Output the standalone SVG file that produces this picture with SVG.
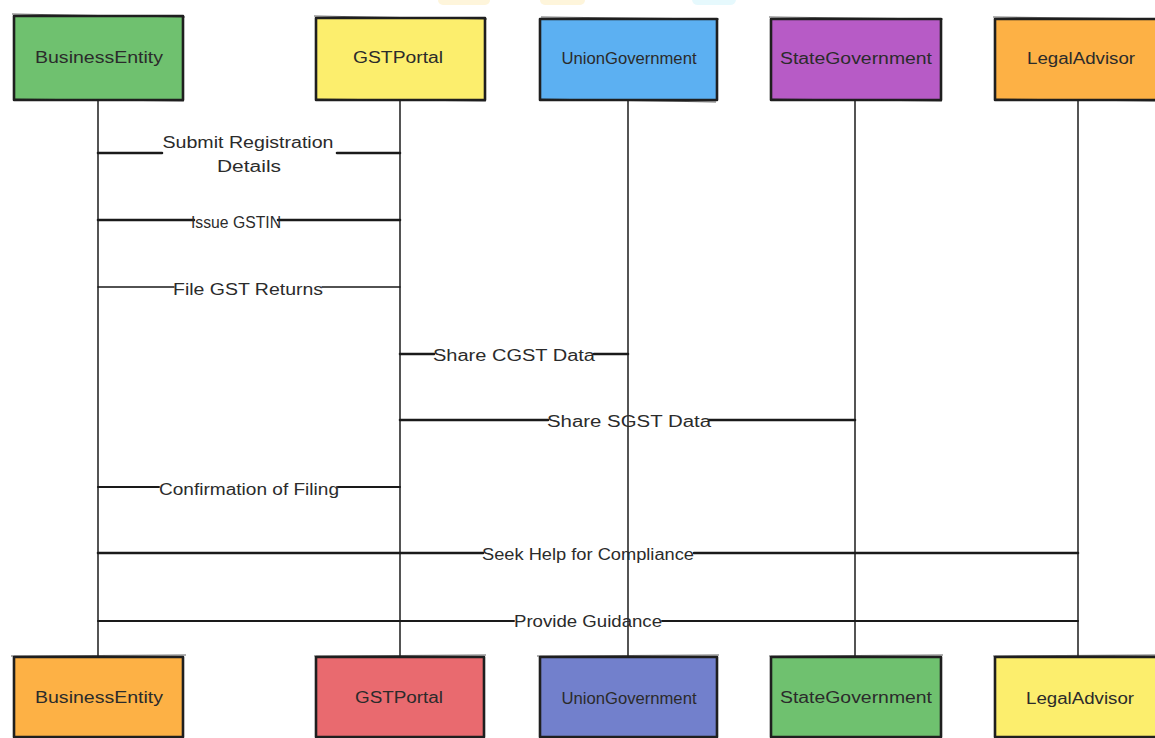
<svg xmlns="http://www.w3.org/2000/svg" width="1155" height="738" viewBox="0 0 1155 738">
  <style>
    .box { stroke: #1f1f1f; stroke-width: 2.6; stroke-linejoin: round; }
    .sk { fill: none; stroke: #1f1f1f; stroke-width: 1.2; opacity: 0.7; }
    .life { stroke: #2a2a2a; stroke-width: 1.6; fill: none; }
    .msg { stroke: #1a1a1a; fill: none; stroke-linecap: round; }
    .thick { stroke-width: 2.6; }
    .mid { stroke-width: 2; }
    .thin { stroke-width: 1.5; }
    .lbl { font-family: "Liberation Sans", "DejaVu Sans", sans-serif; font-size: 16px; fill: #2b2b2b; text-anchor: middle; dominant-baseline: central; }
    .mlbl { font-family: "Liberation Sans", "DejaVu Sans", sans-serif; font-size: 16px; fill: #2b2b2b; text-anchor: middle; dominant-baseline: central; }
  </style>

  <rect x="0" y="0" width="1155" height="738" fill="#ffffff"/>

  <!-- faint marks along the top edge -->
  <g id="top-marks" opacity="0.45">
    <rect x="438" y="-6" width="52" height="11" rx="5" fill="#fde9b0"/>
    <rect x="540" y="-6" width="45" height="11" rx="5" fill="#fde9b0"/>
    <rect x="692" y="-6" width="44" height="11" rx="6" fill="#c9f2fb"/>
  </g>

  <!-- lifelines -->
  <g id="lifelines">
    <line class="life" x1="98" y1="100" x2="98" y2="657"/>
    <line class="life" x1="400" y1="100" x2="400" y2="657"/>
    <line class="life" x1="628" y1="100" x2="628" y2="657"/>
    <line class="life" x1="855" y1="100" x2="855" y2="657"/>
    <line class="life" x1="1078" y1="100" x2="1078" y2="657"/>
  </g>

  <!-- participants, top row -->
  <g id="top-BusinessEntity">
    <rect class="box" x="14" y="16" width="169" height="84" fill="#6fc16f"/>
    <path class="sk" d="M12 14 L185 17 M15 99 L184 101"/>
    <text class="lbl" x="99" y="57" textLength="128" lengthAdjust="spacingAndGlyphs" fill="#1f3a1f">BusinessEntity</text>
  </g>
  <g id="top-GSTPortal">
    <rect class="box" x="316" y="18" width="169" height="82" fill="#fcee6d"/>
    <path class="sk" d="M314 16 L487 19 M317 99 L486 101"/>
    <text class="lbl" x="398" y="57" textLength="90" lengthAdjust="spacingAndGlyphs">GSTPortal</text>
  </g>
  <g id="top-UnionGovernment">
    <rect class="box" x="540" y="19" width="177" height="81" fill="#5cb0f2"/>
    <path class="sk" d="M541 17 L719 19 M541 99 L716 102"/>
    <text class="lbl" x="629" y="58" textLength="135" lengthAdjust="spacingAndGlyphs" fill="#1a2a44">UnionGovernment</text>
  </g>
  <g id="top-StateGovernment">
    <rect class="box" x="771" y="19" width="170" height="81" fill="#b75bc6"/>
    <path class="sk" d="M769 17 L943 19 M772 99 L942 101"/>
    <text class="lbl" x="856" y="58" textLength="152" lengthAdjust="spacingAndGlyphs" fill="#2a1030">StateGovernment</text>
  </g>
  <g id="top-LegalAdvisor">
    <rect class="box" x="995" y="19" width="170" height="81" fill="#fdb145"/>
    <path class="sk" d="M993 17 L1160 19 M996 99 L1160 101"/>
    <text class="lbl" x="1081" y="58" textLength="108" lengthAdjust="spacingAndGlyphs" fill="#3a2208">LegalAdvisor</text>
  </g>

  <!-- messages -->
  <g id="messages">
    <path class="msg thick" d="M98 153 H162 M337 153 H400"/>
    <text class="mlbl" x="248" y="142" textLength="171" lengthAdjust="spacingAndGlyphs">Submit Registration</text>
    <text class="mlbl" x="249" y="166" textLength="64" lengthAdjust="spacingAndGlyphs">Details</text>

    <path class="msg thick" d="M98 220 H194 M278 220 H400"/>
    <text class="mlbl" x="236" y="222" textLength="90" lengthAdjust="spacingAndGlyphs">Issue GSTIN</text>

    <path class="msg thin" d="M98 287 H174 M322 287 H400"/>
    <text class="mlbl" x="248" y="289" textLength="150" lengthAdjust="spacingAndGlyphs">File GST Returns</text>

    <path class="msg thick" d="M400 354 H434 M594 354 H628"/>
    <text class="mlbl" x="514" y="355" textLength="162" lengthAdjust="spacingAndGlyphs">Share CGST Data</text>

    <path class="msg thick" d="M400 420 H548 M709 420 H855"/>
    <text class="mlbl" x="629" y="421" textLength="164" lengthAdjust="spacingAndGlyphs">Share SGST Data</text>

    <path class="msg mid" d="M98 487 H159 M338 487 H400"/>
    <text class="mlbl" x="249" y="489" textLength="180" lengthAdjust="spacingAndGlyphs">Confirmation of Filing</text>

    <path class="msg thick" d="M98 553 H483 M694 553 H1078"/>
    <text class="mlbl" x="588" y="554" textLength="212" lengthAdjust="spacingAndGlyphs">Seek Help for Compliance</text>

    <path class="msg mid" d="M98 621 H514 M662 621 H1078"/>
    <text class="mlbl" x="588" y="621" textLength="148" lengthAdjust="spacingAndGlyphs">Provide Guidance</text>
  </g>

  <!-- participants, bottom row -->
  <g id="bottom-BusinessEntity">
    <rect class="box" x="14" y="657" width="169" height="80" fill="#fdb145"/>
    <path class="sk" d="M11 656 L186 655"/>
    <text class="lbl" x="99" y="697" textLength="128" lengthAdjust="spacingAndGlyphs" fill="#3a2208">BusinessEntity</text>
  </g>
  <g id="bottom-GSTPortal">
    <rect class="box" x="316" y="657" width="168" height="80" fill="#e96a6f"/>
    <path class="sk" d="M314 656 L486 655"/>
    <text class="lbl" x="399" y="697" textLength="88" lengthAdjust="spacingAndGlyphs" fill="#3a1012">GSTPortal</text>
  </g>
  <g id="bottom-UnionGovernment">
    <rect class="box" x="540" y="657" width="177" height="80" fill="#7280cc"/>
    <path class="sk" d="M537 656 L719 655"/>
    <text class="lbl" x="629" y="698" textLength="135" lengthAdjust="spacingAndGlyphs" fill="#141a3a">UnionGovernment</text>
  </g>
  <g id="bottom-StateGovernment">
    <rect class="box" x="771" y="657" width="170" height="80" fill="#6fc16f"/>
    <path class="sk" d="M769 656 L943 655"/>
    <text class="lbl" x="856" y="697" textLength="152" lengthAdjust="spacingAndGlyphs" fill="#1f3a1f">StateGovernment</text>
  </g>
  <g id="bottom-LegalAdvisor">
    <rect class="box" x="995" y="657" width="170" height="80" fill="#fcee6d"/>
    <path class="sk" d="M993 656 L1160 655"/>
    <text class="lbl" x="1080" y="698" textLength="108" lengthAdjust="spacingAndGlyphs" fill="#3a3208">LegalAdvisor</text>
  </g>
</svg>
